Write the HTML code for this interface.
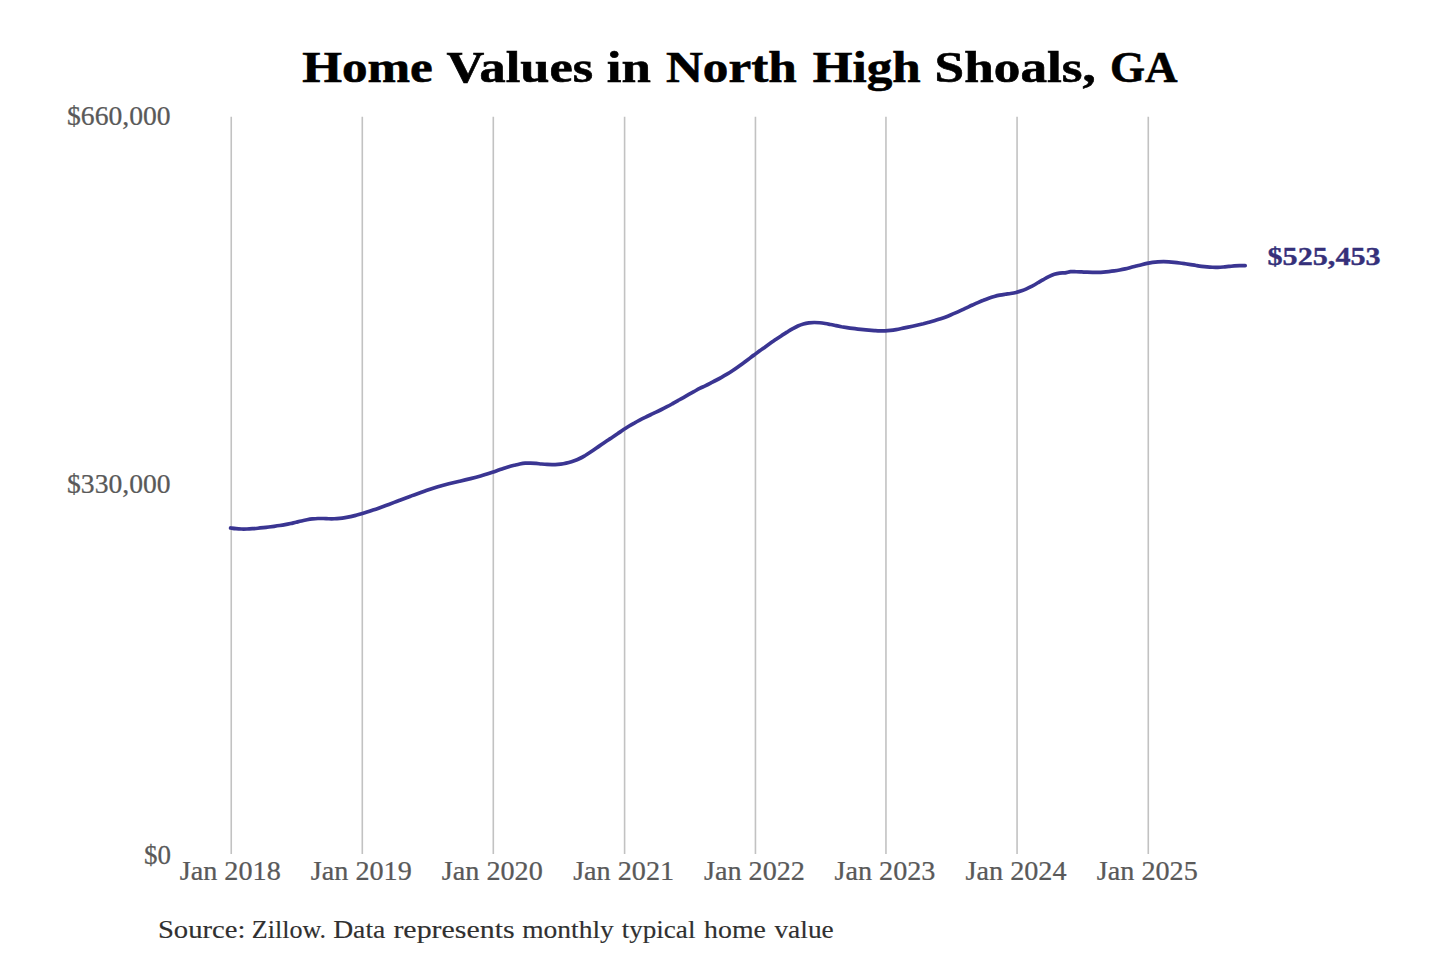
<!DOCTYPE html>
<html><head><meta charset="utf-8"><title>Home Values in North High Shoals, GA</title>
<style>
html,body{margin:0;padding:0;background:#fff;}
body{width:1440px;height:960px;overflow:hidden;font-family:"Liberation Serif", serif;}
svg{display:block;}
</style></head>
<body>
<svg width="1440" height="960" viewBox="0 0 1440 960" font-family='"Liberation Serif", serif'>
<rect width="1440" height="960" fill="#fff"/>
<g fill="#000" stroke="#000" stroke-width="0.6">
<text transform="translate(302.13 81.50) scale(1.1595 1)" font-size="44.10" font-weight="bold">Home</text>
<text transform="translate(446.58 81.50) scale(1.1875 1)" font-size="44.10" font-weight="bold">Values</text>
<text transform="translate(606.84 81.50) scale(1.1990 1)" font-size="44.10" font-weight="bold">in</text>
<text transform="translate(665.88 81.50) scale(1.1617 1)" font-size="44.10" font-weight="bold">North</text>
<text transform="translate(812.73 81.50) scale(1.1589 1)" font-size="44.10" font-weight="bold">High</text>
<text transform="translate(934.57 81.50) scale(1.2072 1)" font-size="44.10" font-weight="bold">Shoals,</text>
<text transform="translate(1110.05 81.50) scale(1.0216 1)" font-size="44.10" font-weight="bold">GA</text>
</g>
<line x1="231.24" y1="116.7" x2="231.24" y2="854" stroke="#c2c2c2" stroke-width="1.6"/>
<line x1="362.30" y1="116.7" x2="362.30" y2="854" stroke="#c2c2c2" stroke-width="1.6"/>
<line x1="493.30" y1="116.7" x2="493.30" y2="854" stroke="#c2c2c2" stroke-width="1.6"/>
<line x1="624.60" y1="116.7" x2="624.60" y2="854" stroke="#c2c2c2" stroke-width="1.6"/>
<line x1="755.45" y1="116.7" x2="755.45" y2="854" stroke="#c2c2c2" stroke-width="1.6"/>
<line x1="885.95" y1="116.7" x2="885.95" y2="854" stroke="#c2c2c2" stroke-width="1.6"/>
<line x1="1017.07" y1="116.7" x2="1017.07" y2="854" stroke="#c2c2c2" stroke-width="1.6"/>
<line x1="1148.28" y1="116.7" x2="1148.28" y2="854" stroke="#c2c2c2" stroke-width="1.6"/>
<g fill="#595959" stroke="#595959" stroke-width="0.25">
<text transform="translate(67.06 124.60) scale(1.0509 1)" font-size="26.30">$660,000</text>
<text transform="translate(67.06 492.50) scale(1.0509 1)" font-size="26.30">$330,000</text>
<text transform="translate(143.99 863.80) scale(1.0264 1)" font-size="26.30">$0</text>
<text transform="translate(230.24 879.7) scale(1.0711 1)" font-size="26.30" text-anchor="middle">Jan 2018</text>
<text transform="translate(361.30 879.7) scale(1.0711 1)" font-size="26.30" text-anchor="middle">Jan 2019</text>
<text transform="translate(492.30 879.7) scale(1.0711 1)" font-size="26.30" text-anchor="middle">Jan 2020</text>
<text transform="translate(623.60 879.7) scale(1.0711 1)" font-size="26.30" text-anchor="middle">Jan 2021</text>
<text transform="translate(754.45 879.7) scale(1.0711 1)" font-size="26.30" text-anchor="middle">Jan 2022</text>
<text transform="translate(884.95 879.7) scale(1.0711 1)" font-size="26.30" text-anchor="middle">Jan 2023</text>
<text transform="translate(1016.07 879.7) scale(1.0711 1)" font-size="26.30" text-anchor="middle">Jan 2024</text>
<text transform="translate(1147.28 879.7) scale(1.0711 1)" font-size="26.30" text-anchor="middle">Jan 2025</text>
</g>
<path d="M230.6,527.97C231.5,528.09 234.2,528.52 236.1,528.69C237.9,528.87 239.7,528.96 241.5,529.01C243.3,529.06 245.1,529.04 247.0,528.98C248.8,528.93 250.6,528.82 252.4,528.70C254.2,528.57 256.1,528.40 257.9,528.22C259.7,528.04 261.5,527.83 263.3,527.62C265.1,527.42 267.0,527.20 268.8,526.98C270.6,526.76 272.4,526.54 274.2,526.30C276.1,526.06 277.9,525.82 279.7,525.54C281.5,525.26 283.3,524.96 285.1,524.62C287.0,524.28 288.8,523.90 290.6,523.50C292.4,523.10 294.2,522.65 296.1,522.22C297.9,521.79 299.7,521.34 301.5,520.94C303.3,520.53 305.1,520.13 307.0,519.80C308.8,519.47 310.6,519.17 312.4,518.96C314.2,518.74 316.1,518.58 317.9,518.51C319.7,518.44 321.5,518.48 323.3,518.52C325.2,518.56 327.0,518.71 328.8,518.75C330.6,518.78 332.4,518.80 334.2,518.74C336.1,518.67 337.9,518.53 339.7,518.34C341.5,518.15 343.3,517.90 345.2,517.61C347.0,517.31 348.8,516.96 350.6,516.57C352.4,516.19 354.2,515.75 356.1,515.29C357.9,514.82 359.7,514.31 361.5,513.78C363.3,513.25 365.2,512.69 367.0,512.11C368.8,511.53 370.6,510.92 372.4,510.30C374.2,509.69 376.1,509.05 377.9,508.41C379.7,507.76 381.5,507.10 383.3,506.44C385.2,505.77 387.0,505.10 388.8,504.42C390.6,503.74 392.4,503.05 394.2,502.36C396.1,501.67 397.9,500.98 399.7,500.29C401.5,499.60 403.3,498.90 405.2,498.22C407.0,497.53 408.8,496.84 410.6,496.16C412.4,495.49 414.2,494.81 416.1,494.15C417.9,493.49 419.7,492.83 421.5,492.19C423.3,491.55 425.2,490.92 427.0,490.30C428.8,489.69 430.6,489.09 432.4,488.51C434.2,487.93 436.1,487.36 437.9,486.82C439.7,486.28 441.5,485.76 443.3,485.26C445.2,484.76 447.0,484.29 448.8,483.83C450.6,483.37 452.4,482.93 454.2,482.50C456.1,482.06 457.9,481.64 459.7,481.21C461.5,480.78 463.3,480.36 465.2,479.92C467.0,479.49 468.8,479.05 470.6,478.60C472.4,478.14 474.2,477.68 476.1,477.19C477.9,476.70 479.7,476.20 481.5,475.68C483.3,475.15 485.2,474.61 487.0,474.04C488.8,473.48 490.6,472.88 492.4,472.27C494.3,471.66 496.1,471.00 497.9,470.36C499.7,469.73 501.5,469.06 503.3,468.45C505.2,467.85 507.0,467.25 508.8,466.73C510.6,466.21 512.4,465.77 514.3,465.32C516.1,464.88 517.9,464.41 519.7,464.05C521.5,463.70 523.3,463.37 525.2,463.21C527.0,463.05 528.8,463.05 530.6,463.09C532.4,463.13 534.3,463.30 536.1,463.45C537.9,463.61 539.7,463.84 541.5,464.01C543.3,464.18 545.2,464.36 547.0,464.46C548.8,464.56 550.6,464.62 552.4,464.61C554.3,464.60 556.1,464.53 557.9,464.39C559.7,464.24 561.5,464.03 563.3,463.73C565.2,463.42 567.0,463.05 568.8,462.57C570.6,462.09 572.4,461.52 574.3,460.84C576.1,460.16 577.9,459.38 579.7,458.49C581.5,457.61 583.3,456.58 585.2,455.51C587.0,454.44 588.8,453.25 590.6,452.05C592.4,450.85 594.3,449.57 596.1,448.31C597.9,447.05 599.7,445.75 601.5,444.50C603.3,443.24 605.2,442.01 607.0,440.80C608.8,439.58 610.6,438.43 612.4,437.22C614.3,436.01 616.1,434.78 617.9,433.54C619.7,432.29 621.5,430.98 623.3,429.77C625.2,428.55 627.0,427.37 628.8,426.25C630.6,425.14 632.4,424.09 634.3,423.07C636.1,422.05 637.9,421.09 639.7,420.14C641.5,419.20 643.3,418.30 645.2,417.40C647.0,416.50 648.8,415.63 650.6,414.76C652.4,413.88 654.3,413.02 656.1,412.14C657.9,411.27 659.7,410.39 661.5,409.48C663.4,408.58 665.2,407.66 667.0,406.70C668.8,405.75 670.6,404.75 672.4,403.74C674.3,402.74 676.1,401.69 677.9,400.66C679.7,399.62 681.5,398.56 683.4,397.52C685.2,396.48 687.0,395.45 688.8,394.43C690.6,393.41 692.4,392.42 694.3,391.42C696.1,390.42 697.9,389.36 699.7,388.44C701.5,387.52 703.4,386.77 705.2,385.89C707.0,385.00 708.8,384.06 710.6,383.12C712.4,382.18 714.3,381.22 716.1,380.25C717.9,379.28 719.7,378.30 721.5,377.29C723.4,376.27 725.2,375.24 727.0,374.14C728.8,373.05 730.6,371.92 732.4,370.73C734.3,369.54 736.1,368.28 737.9,367.00C739.7,365.72 741.5,364.39 743.4,363.05C745.2,361.71 747.0,360.34 748.8,358.97C750.6,357.61 752.4,356.22 754.3,354.87C756.1,353.51 757.9,352.15 759.7,350.82C761.5,349.49 763.4,348.18 765.2,346.88C767.0,345.58 768.8,344.30 770.6,343.04C772.4,341.78 774.3,340.54 776.1,339.31C777.9,338.08 779.7,336.87 781.5,335.68C783.4,334.49 785.2,333.31 787.0,332.16C788.8,331.02 790.6,329.85 792.4,328.81C794.3,327.78 796.1,326.76 797.9,325.95C799.7,325.13 801.5,324.43 803.4,323.91C805.2,323.38 807.0,323.04 808.8,322.80C810.6,322.57 812.4,322.49 814.3,322.48C816.1,322.48 817.9,322.61 819.7,322.78C821.5,322.95 823.4,323.23 825.2,323.52C827.0,323.81 828.8,324.18 830.6,324.53C832.5,324.89 834.3,325.29 836.1,325.66C837.9,326.02 839.7,326.39 841.5,326.73C843.4,327.06 845.2,327.37 847.0,327.66C848.8,327.94 850.6,328.21 852.5,328.45C854.3,328.70 856.1,328.92 857.9,329.13C859.7,329.33 861.5,329.52 863.4,329.69C865.2,329.87 867.0,330.02 868.8,330.16C870.6,330.30 872.5,330.43 874.3,330.54C876.1,330.65 877.9,330.78 879.7,330.83C881.5,330.87 883.4,330.91 885.2,330.84C887.0,330.77 888.8,330.61 890.6,330.41C892.5,330.20 894.3,329.91 896.1,329.60C897.9,329.29 899.7,328.92 901.5,328.55C903.4,328.18 905.2,327.77 907.0,327.38C908.8,326.99 910.6,326.60 912.5,326.20C914.3,325.80 916.1,325.40 917.9,324.98C919.7,324.57 921.5,324.14 923.4,323.70C925.2,323.25 927.0,322.79 928.8,322.31C930.6,321.82 932.5,321.32 934.3,320.78C936.1,320.24 937.9,319.68 939.7,319.08C941.5,318.48 943.4,317.85 945.2,317.17C947.0,316.50 948.8,315.78 950.6,315.03C952.5,314.28 954.3,313.48 956.1,312.67C957.9,311.86 959.7,311.01 961.5,310.17C963.4,309.32 965.2,308.45 967.0,307.60C968.8,306.75 970.6,305.88 972.5,305.04C974.3,304.21 976.1,303.37 977.9,302.58C979.7,301.78 981.5,301.00 983.4,300.28C985.2,299.55 987.0,298.85 988.8,298.22C990.6,297.59 992.5,296.99 994.3,296.48C996.1,295.97 997.9,295.51 999.7,295.14C1001.6,294.77 1003.4,294.51 1005.2,294.24C1007.0,293.97 1008.8,293.80 1010.6,293.51C1012.5,293.22 1014.3,292.94 1016.1,292.50C1017.9,292.06 1019.7,291.51 1021.6,290.86C1023.4,290.20 1025.2,289.43 1027.0,288.59C1028.8,287.76 1030.6,286.82 1032.5,285.85C1034.3,284.88 1036.1,283.81 1037.9,282.77C1039.7,281.73 1041.6,280.61 1043.4,279.59C1045.2,278.57 1047.0,277.53 1048.8,276.65C1050.6,275.77 1052.5,274.92 1054.3,274.32C1056.1,273.72 1057.9,273.30 1059.7,273.05C1061.6,272.80 1063.4,273.03 1065.2,272.80C1067.0,272.58 1068.8,271.87 1070.6,271.69C1072.5,271.51 1074.3,271.70 1076.1,271.75C1077.9,271.79 1079.7,271.88 1081.6,271.96C1083.4,272.03 1085.2,272.13 1087.0,272.19C1088.8,272.26 1090.6,272.32 1092.5,272.34C1094.3,272.36 1096.1,272.35 1097.9,272.30C1099.7,272.25 1101.6,272.17 1103.4,272.05C1105.2,271.94 1107.0,271.78 1108.8,271.59C1110.6,271.40 1112.5,271.17 1114.3,270.91C1116.1,270.64 1117.9,270.34 1119.7,270.00C1121.6,269.65 1123.4,269.27 1125.2,268.85C1127.0,268.44 1128.8,267.97 1130.6,267.51C1132.5,267.05 1134.3,266.55 1136.1,266.08C1137.9,265.61 1139.7,265.12 1141.6,264.68C1143.4,264.24 1145.2,263.80 1147.0,263.43C1148.8,263.06 1150.6,262.72 1152.5,262.45C1154.3,262.19 1156.1,261.99 1157.9,261.86C1159.7,261.73 1161.6,261.68 1163.4,261.68C1165.2,261.67 1167.0,261.74 1168.8,261.84C1170.7,261.94 1172.5,262.10 1174.3,262.29C1176.1,262.48 1177.9,262.71 1179.7,262.96C1181.6,263.20 1183.4,263.49 1185.2,263.77C1187.0,264.05 1188.8,264.36 1190.7,264.65C1192.5,264.94 1194.3,265.25 1196.1,265.52C1197.9,265.79 1199.7,266.07 1201.6,266.30C1203.4,266.53 1205.2,266.74 1207.0,266.91C1208.8,267.07 1210.7,267.20 1212.5,267.26C1214.3,267.33 1216.1,267.34 1217.9,267.29C1219.7,267.25 1221.6,267.11 1223.4,266.98C1225.2,266.84 1227.0,266.63 1228.8,266.46C1230.7,266.29 1232.5,266.08 1234.3,265.94C1236.1,265.80 1237.9,265.66 1239.7,265.61C1241.6,265.56 1244.3,265.64 1245.2,265.65" fill="none" stroke="#3a3592" stroke-width="3.7" stroke-linecap="round" stroke-linejoin="round"/>
<g fill="#35307a" stroke="#35307a" stroke-width="0.35"><text transform="translate(1267.54 265.30) scale(1.2017 1)" font-size="25.10" font-weight="bold">$525,453</text></g>
<g fill="#303030" stroke="#303030" stroke-width="0.15"><text transform="translate(157.89 938.40) scale(1.1341 1)" font-size="25.30">Source:</text>
<text transform="translate(251.80 938.40) scale(1.0304 1)" font-size="25.30">Zillow.</text>
<text transform="translate(333.17 938.40) scale(1.0926 1)" font-size="25.30">Data</text>
<text transform="translate(393.40 938.40) scale(1.1833 1)" font-size="25.30">represents</text>
<text transform="translate(522.20 938.40) scale(1.0867 1)" font-size="25.30">monthly</text>
<text transform="translate(621.63 938.40) scale(1.0721 1)" font-size="25.30">typical</text>
<text transform="translate(704.12 938.40) scale(1.0987 1)" font-size="25.30">home</text>
<text transform="translate(774.40 938.40) scale(1.0837 1)" font-size="25.30">value</text></g>
</svg>
</body></html>
